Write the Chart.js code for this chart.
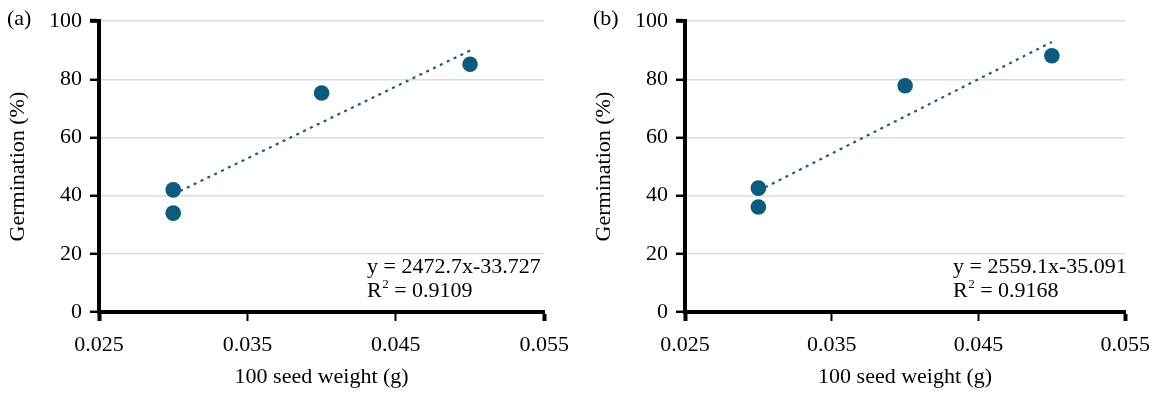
<!DOCTYPE html>
<html>
<head>
<meta charset="utf-8">
<script src="https://cdn.jsdelivr.net/npm/chart.js@4.4.1/dist/chart.umd.min.js"></script>
<style>
  html, body { margin: 0; padding: 0; background: #ffffff; }
  #wrap { position: relative; width: 1161px; height: 396px; }
  canvas { position: absolute; top: 0; }
  #cA { left: 0; }
  #cB { left: 586px; }
</style>
</head>
<body>
<div id="wrap">
  <canvas id="cA" width="580" height="396"></canvas>
  <canvas id="cB" width="575" height="396"></canvas>
</div>
<script>
// ---- data ----
const xTicks = [0.025, 0.035, 0.045, 0.055];
const xTickLabels = ['0.025', '0.035', '0.045', '0.055'];
const yTicks = [0, 20, 40, 60, 80, 100];
const yTickLabels = ['0', '20', '40', '60', '80', '100'];

const seedWeightA = [0.03, 0.03, 0.04, 0.05];
const germinationA = [42, 34, 75.3, 85.2];
const trendXA = [0.03, 0.05];
const trendYA = [40.45, 89.9];
const equationA = ['y = 2472.7x-33.727', '0.9109'];

const seedWeightB = [0.03, 0.03, 0.04, 0.05];
const germinationB = [42.6, 36.1, 77.8, 88.1];
const trendXB = [0.03, 0.05];
const trendYB = [41.68, 92.86];
const equationB = ['y = 2559.1x-35.091', '0.9168'];

const panelLabels = ['(a)', '(b)'];
const xTitle = '100 seed weight (g)';
const yTitle = 'Germination (%)';

const FONT = '"Liberation Serif", "Times New Roman", serif';
const POINT_COLOR = '#0c5a7c';
const TREND_COLOR = '#1a5a86';

Chart.defaults.font.family = FONT;
Chart.defaults.color = '#000';

function makeChart(canvasId, xs, ys, tx, ty, eq, label) {
  const pts = xs.map((x, i) => ({ x: x, y: ys[i] }));
  const trend = tx.map((x, i) => ({ x: x, y: ty[i] }));

  const textPlugin = {
    id: 'texts',
    afterDraw(chart) {
      const ctx = chart.ctx;
      ctx.save();
      ctx.fillStyle = '#000';
      ctx.textBaseline = 'alphabetic';
      ctx.textAlign = 'left';
      ctx.font = '22px ' + FONT;
      ctx.fillText(label, 7, 25);
      const ex = 367;
      ctx.fillText(eq[0], ex, 273);
      ctx.fillText('R', ex, 297);
      const rw = ctx.measureText('R').width;
      ctx.font = '13px ' + FONT;
      ctx.fillText('2', ex + rw + 0.5, 288);
      const sw = ctx.measureText('2').width;
      ctx.font = '22px ' + FONT;
      ctx.fillText(' = ' + eq[1], ex + rw + sw + 0.5, 297);
      ctx.restore();
    }
  };

  return new Chart(document.getElementById(canvasId), {
    type: 'scatter',
    data: {
      datasets: [
        {
          data: pts,
          pointRadius: 7.8,
          pointBackgroundColor: POINT_COLOR,
          pointBorderWidth: 0,
          showLine: false
        },
        {
          data: trend,
          showLine: true,
          pointRadius: 0,
          borderColor: TREND_COLOR,
          borderWidth: 2.2,
          borderDash: [3, 4.6],
          fill: false
        }
      ]
    },
    options: {
      responsive: false,
      animation: false,
      devicePixelRatio: 1,
      layout: { padding: { left: 0, top: 18, right: 35, bottom: 0 } },
      plugins: { legend: { display: false }, tooltip: { enabled: false } },
      scales: {
        x: {
          type: 'linear',
          min: xTicks[0],
          max: xTicks[xTicks.length - 1],
          afterBuildTicks: (s) => { s.ticks = xTicks.map(v => ({ value: v })); },
          afterFit: (s) => { s.height = 84; },
          ticks: {
            autoSkip: false,
            maxRotation: 0,
            padding: 11,
            font: { size: 22, family: FONT },
            color: '#000',
            callback: (v, i) => xTickLabels[i]
          },
          grid: {
            display: true,
            drawOnChartArea: false,
            drawTicks: true,
            tickLength: 9,
            tickColor: '#000',
            tickWidth: (c) => (c.index === 0 || c.index === xTicks.length - 1) ? 4 : 2
          },
          border: { display: true, color: '#000', width: 4 },
          title: {
            display: true,
            text: xTitle,
            font: { size: 22, family: FONT },
            color: '#000',
            padding: { top: 0, bottom: 6 }
          }
        },
        y: {
          type: 'linear',
          min: yTicks[0],
          max: yTicks[yTicks.length - 1],
          afterBuildTicks: (s) => { s.ticks = yTicks.map(v => ({ value: v })); },
          afterFit: (s) => { s.width = 99; },
          ticks: {
            autoSkip: false,
            padding: 8,
            font: { size: 22, family: FONT },
            color: '#000',
            callback: (v, i) => yTickLabels[i]
          },
          grid: {
            display: true,
            drawTicks: true,
            tickLength: 9,
            color: '#dcdcdc',
            lineWidth: 1.6,
            tickColor: '#000',
            tickWidth: (c) => (c.index === yTicks.length - 1) ? 4 : 2.5
          },
          border: { display: true, color: '#000', width: 4 },
          title: {
            display: true,
            text: yTitle,
            font: { size: 22, family: FONT },
            color: '#000',
            padding: { top: 5, bottom: 0 }
          }
        }
      }
    },
    plugins: [textPlugin]
  });
}

makeChart('cA', seedWeightA, germinationA, trendXA, trendYA, equationA, panelLabels[0]);
makeChart('cB', seedWeightB, germinationB, trendXB, trendYB, equationB, panelLabels[1]);
</script>
</body>
</html>
